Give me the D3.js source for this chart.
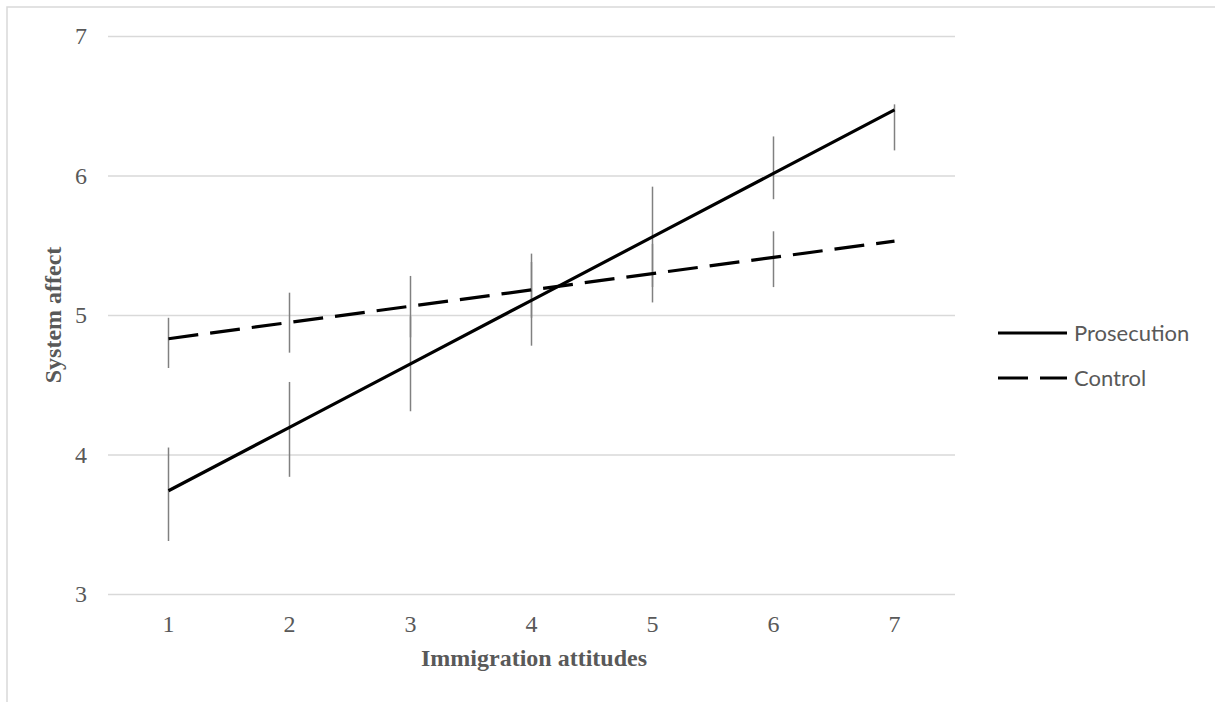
<!DOCTYPE html>
<html><head><meta charset="utf-8">
<script src="https://cdn.jsdelivr.net/npm/d3@7"></script>
<style>html,body{margin:0;padding:0;background:#fff;}svg{display:block;}</style>
</head><body>
<svg id="c" width="1215" height="702"></svg>
<script>
const categories = ["1","2","3","4","5","6","7"];
const yTicks = [3,4,5,6,7];
const prosecution = [3.74,4.195,4.65,5.105,5.56,6.015,6.47];
const prosecutionLow = [3.38,3.84,4.31,4.78,5.20,5.83,6.18];
const prosecutionHigh = [4.05,4.52,4.99,5.44,5.92,6.28,6.51];
const control = [4.83,4.947,5.063,5.18,5.297,5.413,5.53];
const controlLow = [4.62,4.73,4.84,4.98,5.09,5.20,null];
const controlHigh = [4.98,5.16,5.28,5.38,5.51,5.60,null];
const seriesNames = ["Prosecution","Control"];

const svg = d3.select("#c");
const x = d3.scaleBand().domain(categories).range([108,955]);
const y = d3.scaleLinear().domain([3,7]).range([594,36]);
const cx = d => x(d) + x.bandwidth()/2;
const serif = "'Liberation Serif', 'Times New Roman', serif";

// border
svg.append("path").attr("d","M7,702V7H1215").attr("fill","none").attr("stroke","#d9d9d9").attr("stroke-width",1.5);

// gridlines + y labels
const yAxis = d3.axisLeft(y).tickValues(yTicks).tickSize(-(955-108)).tickPadding(21).tickFormat(d3.format("d"));
const gy = svg.append("g").attr("transform","translate(108,0)").call(yAxis);
gy.select(".domain").remove();
gy.selectAll("line").attr("stroke","#d9d9d9").attr("stroke-width",1.5);
gy.selectAll("text").attr("fill","#595959").attr("font-family",serif).attr("font-size",24);

const xAxis = d3.axisBottom(x).tickSize(0).tickPadding(21);
const gx = svg.append("g").attr("transform","translate(0,594)").call(xAxis);
gx.select(".domain").remove();
gx.selectAll("text").attr("fill","#595959").attr("font-family",serif).attr("font-size",24);

// error bars
const ebar = (lo, hi) => {
  svg.append("g").selectAll("line").data(categories.map((c,i)=>({c,lo:lo[i],hi:hi[i]})).filter(d=>d.lo!=null))
    .join("line").attr("x1",d=>cx(d.c)).attr("x2",d=>cx(d.c))
    .attr("y1",d=>y(d.lo)).attr("y2",d=>y(d.hi))
    .attr("stroke","#808080").attr("stroke-width",1.5);
};
ebar(controlLow, controlHigh);
ebar(prosecutionLow, prosecutionHigh);

const line = d3.line().x((d,i)=>cx(categories[i])).y(d=>y(d));
svg.append("path").datum(control).attr("d",line).attr("fill","none").attr("stroke","#000").attr("stroke-width",3.2).attr("stroke-dasharray","30,12");
svg.append("path").datum(prosecution).attr("d",line).attr("fill","none").attr("stroke","#000").attr("stroke-width",3.2);

// axis titles
svg.append("text").attr("x",534).attr("y",666).attr("text-anchor","middle")
  .attr("font-family",serif).attr("font-weight","bold").attr("font-size",24).attr("fill","#595959").text("Immigration attitudes");
svg.append("text").attr("transform","translate(61,315) rotate(-90)").attr("text-anchor","middle")
  .attr("font-family",serif).attr("font-weight","bold").attr("font-size",24).attr("fill","#595959").text("System affect");

// legend
const leg = svg.append("g");
seriesNames.forEach((n,i)=>{
  const ly = 333 + i*45;
  leg.append("line").attr("x1",998).attr("x2",1067).attr("y1",ly).attr("y2",ly)
    .attr("stroke","#000").attr("stroke-width",3.2).attr("stroke-dasharray", i===1 ? "30,12" : null);
  leg.append("text").attr("x",1074).attr("y",ly).attr("dy","0.35em")
    .attr("font-family","Lato, 'Open Sans', sans-serif").attr("font-size",22).attr("fill","#595959").text(n);
});
</script>
</body></html>
